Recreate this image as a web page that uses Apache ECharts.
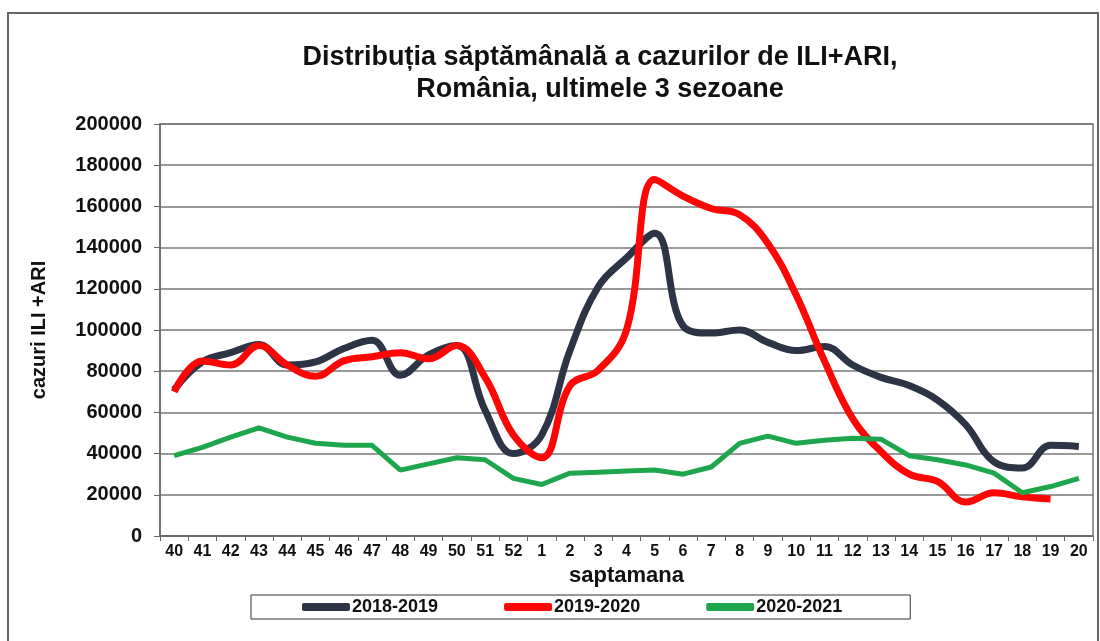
<!DOCTYPE html>
<html>
<head>
<meta charset="utf-8">
<script src="https://cdn.jsdelivr.net/npm/echarts@6/dist/echarts.min.js"></script>
<style>
    html, body { margin: 0; padding: 0; background: #fff; }
    #frame {
        position: absolute;
        left: 7px;
        top: 12px;
        width: 1088px;
        height: 640px;
        border: 2px solid #666;
    }
    #chart {
        position: absolute;
        left: 0;
        top: 0;
        width: 1100px;
        height: 641px;
    }
</style>
</head>
<body>
<div id="frame"></div>
<div id="chart"></div>
<script>
/* ===========================
   Data
=========================== */

const weeks = ["40", "41", "42", "43", "44", "45", "46", "47", "48", "49", "50", "51", "52",
    "1", "2", "3", "4", "5", "6", "7", "8", "9", "10", "11", "12", "13", "14", "15", "16",
    "17", "18", "19", "20"];

const season2018 = [71000, 84500, 89000, 93000, 83000, 84500, 91000, 95000, 78000, 88000,
    92500, 61000, 40000, 49000, 90000, 121000, 135000, 147000, 102000, 98500, 100000, 94000,
    90000, 92000, 83000, 77000, 73000, 66000, 54000, 36000, 33000, 44000, 43500];

const season2019 = [70000, 85000, 83000, 92500, 83000, 77500, 85000, 87000, 89000, 86000,
    92500, 77000, 49000, 38000, 73000, 80500, 100000, 173000, 165000, 159000, 156000, 142000,
    117000, 85000, 57000, 41000, 30000, 26500, 16500, 21000, 19000, 18000, null];

const season2020 = [39000, 43000, 48000, 52500, 48000, 45000, 44000, 44000, 32000, 35000,
    38000, 37000, 28000, 25000, 30500, 31000, 31500, 32000, 30000, 33500, 45000, 48500,
    45000, 46500, 47500, 47000, 39000, 37000, 34500, 30500, 21000, 24000, 28000];

const seasonNames = ["2018-2019", "2019-2020", "2020-2021"];

const FONT = "Liberation Sans";

/* ===========================
   Chart
=========================== */

const chart = echarts.init(document.getElementById("chart"));

chart.setOption({

    animation: false,

    title: {
        text: "Distribuția săptămânală a cazurilor de ILI+ARI,\nRomânia, ultimele 3 sezoane",
        left: 600,
        textAlign: "center",
        top: 42,
        padding: 0,
        textStyle: {
            fontFamily: FONT,
            fontWeight: "bold",
            fontSize: 27,
            lineHeight: 32,
            color: "#111"
        }
    },

    grid: {
        left: 160,
        right: 7,
        top: 124,
        bottom: 105,
        show: true,
        borderColor: "#777",
        borderWidth: 1.5
    },

    legend: {
        data: seasonNames,
        left: 251,
        top: 595,
        padding: [3, 68, 3, 51],
        itemGap: 66,
        itemWidth: 48,
        itemHeight: 8,
        icon: "roundRect",
        borderColor: "#333",
        borderWidth: 1,
        textStyle: {
            fontFamily: FONT,
            fontWeight: "bold",
            fontSize: 18,
            color: "#111",
            padding: [0, 0, 0, -3]
        }
    },

    xAxis: {
        type: "category",
        data: weeks,
        name: "saptamana",
        nameLocation: "middle",
        nameGap: 29,
        nameTextStyle: {
            fontFamily: FONT,
            fontWeight: "bold",
            fontSize: 22,
            color: "#111"
        },
        axisLine: {
            lineStyle: { color: "#666", width: 1.5 }
        },
        axisTick: {
            show: true,
            length: 5,
            lineStyle: { color: "#666" }
        },
        axisLabel: {
            interval: 0,
            margin: 8,
            fontFamily: FONT,
            fontWeight: "bold",
            fontSize: 16,
            color: "#111"
        }
    },

    yAxis: {
        type: "value",
        min: 0,
        max: 200000,
        interval: 20000,
        name: "cazuri ILI +ARI",
        nameLocation: "middle",
        nameRotate: 90,
        nameGap: 111,
        nameTextStyle: {
            fontFamily: FONT,
            fontWeight: "bold",
            fontSize: 20,
            color: "#111"
        },
        axisLine: {
            show: true,
            lineStyle: { color: "#666", width: 1.5 }
        },
        axisTick: {
            show: true,
            length: 6,
            lineStyle: { color: "#666" }
        },
        axisLabel: {
            margin: 18,
            formatter: value => String(value),
            fontFamily: FONT,
            fontWeight: "bold",
            fontSize: 20,
            color: "#111"
        },
        splitLine: {
            lineStyle: { color: "#777", width: 1.5 }
        }
    },

    series: [
        {
            name: seasonNames[0],
            type: "line",
            smooth: 0.4,
            symbol: "none",
            data: season2018,
            itemStyle: { color: "#2c3446" },
            lineStyle: { width: 7, color: "#2c3446" },
            z: 2
        },
        {
            name: seasonNames[1],
            type: "line",
            smooth: 0.4,
            symbol: "none",
            data: season2019,
            itemStyle: { color: "#ff0505" },
            lineStyle: { width: 7, color: "#ff0505" },
            z: 3
        },
        {
            name: seasonNames[2],
            type: "line",
            smooth: false,
            symbol: "none",
            data: season2020,
            itemStyle: { color: "#1ea64c" },
            lineStyle: { width: 5, color: "#1ea64c" },
            z: 4
        }
    ]

});
</script>
</body>
</html>
